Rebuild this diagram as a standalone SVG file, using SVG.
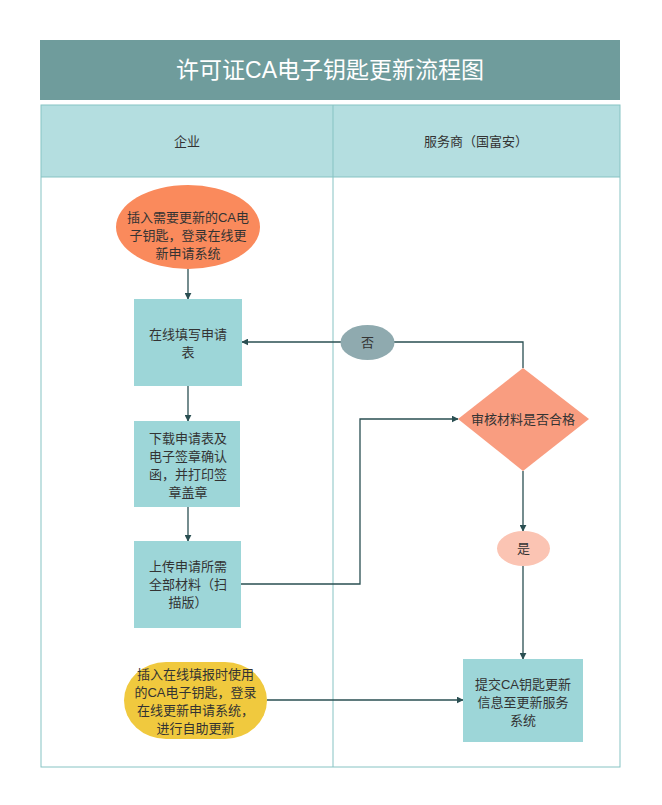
<svg xmlns="http://www.w3.org/2000/svg" width="662" height="805" viewBox="0 0 662 805">
<defs>
<style>
text{font-family:"Liberation Sans","Noto Sans CJK SC",sans-serif;font-size:13px;fill:#333;text-anchor:middle;dominant-baseline:central}
.title{font-size:23px;fill:#fff}
.lane{fill:none;stroke:#86C3C3;stroke-width:1}
.conn{fill:none;stroke:#2A4F52;stroke-width:1.3}
.box{fill:#9DD6D8}
</style>
<marker id="arr" viewBox="0 0 10 10" refX="9" refY="5" markerWidth="7" markerHeight="7" orient="auto" markerUnits="userSpaceOnUse">
<path d="M0,0 L10,5 L0,10 z" fill="#2A4F52"/>
</marker>
</defs>
<rect width="662" height="805" fill="#fff"/>
<g id="title">
<rect x="40" y="40" width="580" height="60" fill="#6F9C9C"/>
<text class="title" x="330" y="70">许可证CA电子钥匙更新流程图</text>
</g>
<g id="pool">
<rect x="41" y="105" width="579" height="72" fill="#B4DEE0"/>
<rect class="lane" x="41" y="105" width="579" height="662"/>
<line class="lane" x1="41" y1="177" x2="620" y2="177"/>
<line class="lane" x1="333" y1="105" x2="333" y2="767"/>
<text x="187" y="141">企业</text>
<text x="476" y="141">服务商（国富安）</text>
</g>
<g id="connectors">
<line class="conn" x1="188" y1="269" x2="188" y2="299" marker-end="url(#arr)"/>
<line class="conn" x1="188" y1="386" x2="188" y2="421" marker-end="url(#arr)"/>
<line class="conn" x1="188" y1="507" x2="188" y2="541" marker-end="url(#arr)"/>
<polyline class="conn" points="241,584 360,584 360,419 458,419" marker-end="url(#arr)"/>
<polyline class="conn" points="523,368 523,342 394,342"/>
<line class="conn" x1="341" y1="342" x2="242" y2="342" marker-end="url(#arr)"/>
<line class="conn" x1="523" y1="471" x2="523" y2="531" marker-end="url(#arr)"/>
<line class="conn" x1="523" y1="566" x2="523" y2="659" marker-end="url(#arr)"/>
<line class="conn" x1="267" y1="700" x2="463" y2="700" marker-end="url(#arr)"/>
</g>
<g id="start">
<ellipse cx="188" cy="227" rx="72" ry="42" fill="#FA8A5C"/>
<text x="188" y="217">插入需要更新的CA电</text>
<text x="188" y="235">子钥匙，登录在线更</text>
<text x="188" y="253">新申请系统</text>
</g>
<g id="fill">
<rect class="box" x="134" y="299" width="108" height="87"/>
<text x="188" y="334">在线填写申请</text>
<text x="188" y="352">表</text>
</g>
<g id="download">
<rect class="box" x="134" y="421" width="106" height="86"/>
<text x="188" y="438">下载申请表及</text>
<text x="188" y="456">电子签章确认</text>
<text x="188" y="474">函，并打印签</text>
<text x="188" y="492">章盖章</text>
</g>
<g id="upload">
<rect class="box" x="134" y="541" width="107" height="87"/>
<text x="188" y="566">上传申请所需</text>
<text x="188" y="584">全部材料（扫</text>
<text x="188" y="602">描版）</text>
</g>
<g id="no">
<ellipse cx="367.5" cy="342.5" rx="27" ry="17.5" fill="#8FAAAF"/>
<text x="367.5" y="342.5">否</text>
</g>
<g id="review">
<polygon points="523,368 589,419 523,471 458,419" fill="#F99D80"/>
<text x="523" y="419">审核材料是否合格</text>
</g>
<g id="yes">
<ellipse cx="523.5" cy="548.5" rx="26.5" ry="17.5" fill="#FBC4B3"/>
<text x="523.5" y="548.5">是</text>
</g>
<g id="self">
<rect x="124" y="662" width="143" height="77" rx="42" ry="38.5" fill="#F0C93E"/>
<text x="195.5" y="674">插入在线填报时使用</text>
<text x="195.5" y="692">的CA电子钥匙，登录</text>
<text x="195.5" y="710">在线更新申请系统，</text>
<text x="195.5" y="728">进行自助更新</text>
</g>
<g id="submit">
<rect class="box" x="463" y="659" width="120" height="83"/>
<text x="523" y="684">提交CA钥匙更新</text>
<text x="523" y="702">信息至更新服务</text>
<text x="523" y="720">系统</text>
</g>
</svg>
